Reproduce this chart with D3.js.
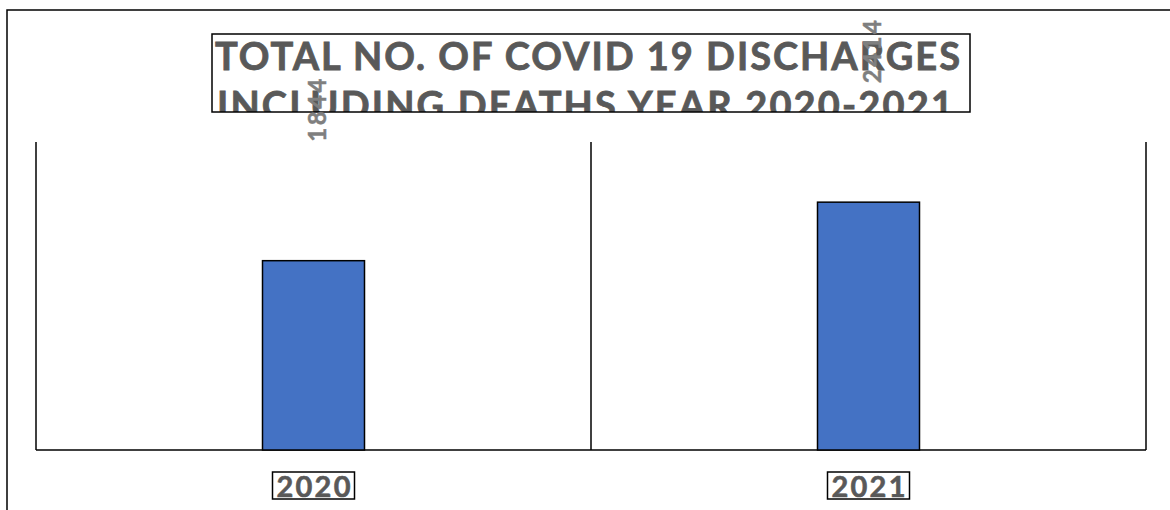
<!DOCTYPE html>
<html>
<head>
<meta charset="utf-8">
<script src="https://cdn.jsdelivr.net/npm/d3@7"></script>
<style>
  html, body { margin: 0; padding: 0; background: #fff; }
  svg { display: block; }
  text { font-family: Lato, "Open Sans", sans-serif; font-weight: bold; }
</style>
</head>
<body>
<svg id="chart" width="1170" height="510"></svg>
<script>
// Discharges (including deaths) per year
const years = ["2020", "2021"];
const discharges = [1844, 2414];
const titleLines = ["TOTAL NO. OF COVID 19 DISCHARGES", "INCLUDING DEATHS YEAR 2020-2021"];
const yMax = 3000;

const svg = d3.select("#chart");
const W = 1170, H = 510;

// outer chart frame
svg.append("rect")
  .attr("x", 7).attr("y", 10)
  .attr("width", W).attr("height", H)
  .attr("fill", "#fff").attr("stroke", "#000").attr("stroke-width", 1.5);

// plot area
const plot = { left: 36, right: 1146, top: 142, bottom: 450 };

const x = d3.scaleBand().domain(years).range([plot.left, plot.right]).padding(0);
const y = d3.scaleLinear().domain([0, yMax]).range([plot.bottom, plot.top]);

// category separators (left edge, between categories, right edge)
const edges = years.map(d => x(d)).concat([x(years[years.length - 1]) + x.bandwidth()]);
svg.append("g").selectAll("line").data(edges).join("line")
  .attr("x1", d => d).attr("x2", d => d)
  .attr("y1", y(yMax)).attr("y2", y(0))
  .attr("stroke", "#000").attr("stroke-width", 1.5);

// baseline
svg.append("line")
  .attr("x1", plot.left).attr("x2", plot.right)
  .attr("y1", y(0)).attr("y2", y(0))
  .attr("stroke", "#000").attr("stroke-width", 1.5);

// bars
const barW = 102;
const data = years.map((yr, i) => ({ yr, v: discharges[i] }));
svg.append("g").selectAll("rect").data(data).join("rect")
  .attr("x", d => x(d.yr) + x.bandwidth() / 2 - barW / 2)
  .attr("y", d => y(d.v))
  .attr("width", barW)
  .attr("height", d => y(0) - y(d.v))
  .attr("fill", "#4472c4")
  .attr("stroke", "#000").attr("stroke-width", 1.5);

// category labels with boxes
const ticks = svg.append("g").selectAll("g").data(years).join("g");
ticks.append("text")
  .attr("x", d => x(d) + x.bandwidth() / 2)
  .attr("y", 497)
  .attr("text-anchor", "middle")
  .attr("font-size", 29)
  .attr("fill", "#595959")
  .attr("stroke", "#595959").attr("stroke-width", 0.6)
  .attr("textLength", 74)
  .attr("lengthAdjust", "spacing")
  .text(d => d);
ticks.each(function () {
  const g = d3.select(this);
  const cx = x(g.datum()) + x.bandwidth() / 2;
  g.insert("rect", "text")
    .attr("x", cx - 41).attr("y", 472)
    .attr("width", 82).attr("height", 27)
    .attr("fill", "#fff").attr("stroke", "#000").attr("stroke-width", 1.5);
});

// title box, text clipped to the box
const tb = { x: 212, y: 34, w: 758, h: 78 };
svg.append("clipPath").attr("id", "titleClip")
  .append("rect").attr("x", tb.x).attr("y", tb.y).attr("width", tb.w).attr("height", tb.h);
svg.append("rect")
  .attr("x", tb.x).attr("y", tb.y).attr("width", tb.w).attr("height", tb.h)
  .attr("fill", "#fff").attr("stroke", "none");
const titleG = svg.append("g").attr("clip-path", "url(#titleClip)");
const titleLens = [745, 736];
titleG.selectAll("text").data(titleLines).join("text")
  .attr("x", (d, i) => i === 0 ? 215 : 217)
  .attr("y", (d, i) => 70 + i * 49)
  .attr("font-size", 38)
  .attr("fill", "#595959")
  .attr("stroke", "#595959").attr("stroke-width", 0.8)
  .attr("textLength", (d, i) => titleLens[i])
  .attr("lengthAdjust", "spacing")
  .text(d => d);
svg.append("rect")
  .attr("x", tb.x).attr("y", tb.y).attr("width", tb.w).attr("height", tb.h)
  .attr("fill", "none").attr("stroke", "#000").attr("stroke-width", 1.5);

// rotated value labels
svg.append("g").selectAll("text").data(data).join("text")
  .attr("transform", d => `translate(${x(d.yr) + x.bandwidth() / 2 + 12},${y(d.v) - 119}) rotate(-90)`)
  .attr("text-anchor", "start")
  .attr("font-size", 24)
  .attr("fill", "#7f7f7f")
  .attr("stroke", "#7f7f7f").attr("stroke-width", 0.5)
  .attr("textLength", 63)
  .attr("lengthAdjust", "spacing")
  .text(d => d.v);
</script>
</body>
</html>
